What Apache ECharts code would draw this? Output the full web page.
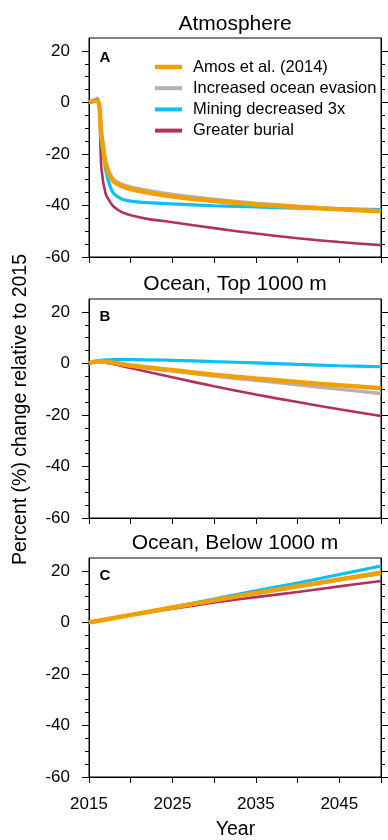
<!DOCTYPE html>
<html><head><meta charset="utf-8">
<script src="https://cdn.jsdelivr.net/npm/echarts@6/dist/echarts.min.js"></script>
<style>html,body{margin:0;padding:0;background:#fff}#c{width:388px;height:840px}</style>
</head><body><div id="c"></div>
<script>
// ---------- data ----------
const seriesNames = ['Amos et al. (2014)', 'Increased ocean evasion', 'Mining decreased 3x', 'Greater burial'];
const panelTitles = ['Atmosphere', 'Ocean, Top 1000 m', 'Ocean, Below 1000 m'];
const panelLetters = ['A', 'B', 'C'];
const yMajorTicks = [-60, -40, -20, 0, 20];
const yMinorTicks = [-55, -50, -45, -35, -30, -25, -15, -10, -5, 5, 10, 15];

// Panel A: Atmosphere
const yearsA = [2015, 2016, 2016.5, 2017, 2017.5, 2018, 2019, 2020, 2022, 2025, 2030, 2035, 2040, 2045, 2050];
const atmAmos    = [0, 0.8, -13, -24, -28.5, -30.8, -32.6, -33.6, -35.0, -36.5, -38.3, -39.6, -40.6, -41.5, -42.2];
const atmEvasion = [0, 0.8, -12, -23, -27.5, -30.0, -31.8, -32.8, -34.2, -35.7, -37.6, -39.1, -40.3, -41.3, -42.1];
const atmMining  = [0, 1.5, -15, -26, -32.4, -35.5, -37.6, -38.3, -38.9, -39.4, -40.1, -40.6, -41.0, -41.3, -41.6];
const atmBurial  = [0, 0.5, -26, -35.5, -38.5, -40.6, -42.7, -43.8, -45.2, -46.5, -48.8, -50.9, -52.7, -54.2, -55.4];

// Panel B: Ocean, top 1000 m
const yearsB = [2015, 2016, 2017, 2018, 2020, 2025, 2030, 2035, 2040, 2045, 2050];
const topAmos    = [0, 0.8, 0.6, 0.3, -0.8, -2.6, -4.4, -5.9, -7.2, -8.5, -9.6];
const topEvasion = [0, 0.7, 0.5, 0.1, -1.0, -3.0, -4.9, -6.6, -8.3, -10.0, -11.7];
const topMining  = [0, 1.0, 1.4, 1.5, 1.5, 1.2, 0.7, 0.2, -0.4, -0.9, -1.3];
const topBurial  = [0, 0.7, 0.3, -0.3, -1.8, -5.4, -8.9, -12.1, -15.0, -17.8, -20.4];

// Panel C: Ocean, below 1000 m
const yearsC = [2015, 2020, 2025, 2030, 2035, 2040, 2045, 2050];
const deepAmos    = [0, 2.9, 5.8, 8.6, 11.4, 14.0, 16.7, 19.3];
const deepEvasion = [0, 2.9, 5.7, 8.5, 11.2, 13.8, 16.4, 19.0];
const deepMining  = [0, 2.9, 6.0, 9.1, 12.3, 15.3, 18.6, 21.9];
const deepBurial  = [0, 2.8, 5.3, 7.7, 9.8, 11.8, 14.0, 16.1];

// ---------- chart ----------
const FONT = '"Liberation Sans", Arial, Helvetica, sans-serif';
const colors = ['#F2A000', '#B2B2B2', '#0CBFF8', '#B03060'];
const widths = [4.5, 3.4, 3.2, 2.6];
const legendBar = [4.5, 4, 4, 4];
const panels = [
  {years: yearsA, data: [atmAmos, atmEvasion, atmMining, atmBurial]},
  {years: yearsB, data: [topAmos, topEvasion, topMining, topBurial]},
  {years: yearsC, data: [deepAmos, deepEvasion, deepMining, deepBurial]}
];
const gridTops = [38, 299, 558];
const titleY = [24, 284, 543.5];
const letterY = [58, 317, 576];

const grids = [], xAxes = [], yAxes = [], series = [], graphics = [];
gridTops.forEach((t, i) => {
  grids.push({left: 89, right: 7, top: t, height: 219, show: true, borderColor: '#000', borderWidth: 1, backgroundColor: 'transparent'});
  xAxes.push({
    gridIndex: i, type: 'value', min: 2015, max: 2050, interval: 5,
    axisLine: {show: true, onZero: false, lineStyle: {color: '#000', width: 1}},
    axisTick: {show: true, inside: false, length: 6, lineStyle: {color: '#000', width: 1}},
    axisLabel: {show: i === 2, margin: 19, fontSize: 17, fontFamily: FONT, color: '#000',
      formatter: v => ((v - 2015) % 10 === 0 ? String(v) : '')},
    splitLine: {show: false}
  });
  const base = {gridIndex: i, type: 'value', min: -60, max: 25, splitLine: {show: false}};
  yAxes.push(Object.assign({}, base, {
    position: 'left',
    axisLine: {show: true, onZero: false, lineStyle: {color: '#000', width: 1}},
    axisTick: {show: true, inside: false, length: 7, customValues: yMajorTicks, lineStyle: {color: '#000', width: 1}},
    axisLabel: {show: true, customValues: yMajorTicks, margin: 19, fontSize: 17, fontFamily: FONT, color: '#000'}
  }));
  yAxes.push(Object.assign({}, base, {
    position: 'left',
    axisLine: {show: false, onZero: false},
    axisTick: {show: true, inside: false, length: 4, customValues: yMinorTicks, lineStyle: {color: '#000', width: 1}},
    axisLabel: {show: false}
  }));
  yAxes.push(Object.assign({}, base, {
    position: 'right',
    axisLine: {show: true, onZero: false, lineStyle: {color: '#000', width: 1}},
    axisTick: {show: true, inside: false, length: 7, customValues: yMajorTicks, lineStyle: {color: '#000', width: 1}},
    axisLabel: {show: false}
  }));
  yAxes.push(Object.assign({}, base, {
    position: 'right',
    axisLine: {show: false, onZero: false},
    axisTick: {show: true, inside: false, length: 4, customValues: yMinorTicks, lineStyle: {color: '#000', width: 1}},
    axisLabel: {show: false}
  }));

  const p = panels[i];
  [3, 2, 1, 0].forEach(k => {
    series.push({
      type: 'line', name: seriesNames[k], xAxisIndex: i, yAxisIndex: i * 4,
      data: p.years.map((yr, j) => [yr, p.data[k][j]]),
      showSymbol: false, symbol: 'none', smooth: 0.3,
      lineStyle: {color: colors[k], width: widths[k]},
      itemStyle: {color: colors[k]},
      z: 2 + (3 - k), silent: true, animation: false
    });
  });

  graphics.push({type: 'text', x: 235, y: titleY[i], style: {text: panelTitles[i], font: '21px ' + FONT, fill: '#000', textAlign: 'center', textVerticalAlign: 'middle'}});
  graphics.push({type: 'text', x: 99.5, y: letterY[i], style: {text: panelLetters[i], font: 'bold 15px ' + FONT, fill: '#000', textAlign: 'left', textVerticalAlign: 'middle'}});
});

graphics.push({type: 'text', x: 21, y: 409.5, rotation: Math.PI / 2,
  style: {text: 'Percent (%) change relative to 2015', font: '19.5px ' + FONT, fill: '#000', textAlign: 'center', textVerticalAlign: 'middle'}});
graphics.push({type: 'text', x: 235.5, y: 830,
  style: {text: 'Year', font: '19.5px ' + FONT, fill: '#000', textAlign: 'center', textVerticalAlign: 'middle'}});

const chart = echarts.init(document.getElementById('c'), null, {renderer: 'canvas'});
chart.setOption({
  animation: false,
  backgroundColor: '#fff',
  grid: grids, xAxis: xAxes, yAxis: yAxes, series: series,
  legend: {
    data: seriesNames.map((n, k) => ({
      name: n,
      icon: 'path://M0,0H27V' + legendBar[k] + 'H0Z',
      itemStyle: {color: colors[k]}
    })),
    orient: 'vertical', left: 155, top: 58.5, padding: 0,
    itemWidth: 27, itemHeight: 16, itemGap: 4.2, symbolKeepAspect: true,
    selectedMode: false,
    textStyle: {fontSize: 16.5, fontFamily: FONT, color: '#000', lineHeight: 16, padding: [0, 0, 0, 6]}
  },
  graphic: graphics
});
</script>
</body></html>
